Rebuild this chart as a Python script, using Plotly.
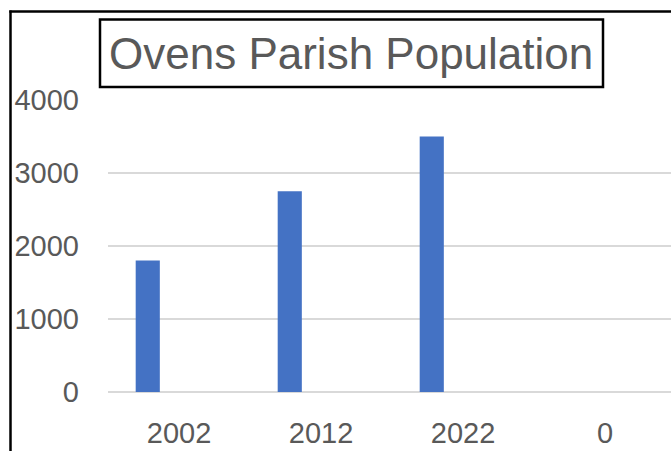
import plotly.graph_objects as go

categories = ["2002", "2012", "2022", "0"]
population = [1800, 2750, 3500, 0]
y_ticks = [0, 1000, 2000, 3000, 4000]
title_text = "Ovens Parish Population"

W, H = 671, 451
PL, PR, PT, PB = 108, 671, 100, 392.3
CAT_PX = 142.0  # pixels per category slot


def px_x(p):
    return (p - PL) / (PR - PL)


def px_y(p):
    return (PB - p) / (PB - PT)


fig = go.Figure()
fig.add_trace(go.Bar(
    x=categories,
    y=population,
    width=0.17,
    offset=-0.305,
    marker=dict(color="#4472C4", line=dict(width=0)),
    hoverinfo="skip",
))

font_fam = "Liberation Sans"
fig.update_layout(
    width=W,
    height=H,
    margin=dict(l=PL, r=W - PR, t=PT, b=H - PB, pad=0),
    paper_bgcolor="white",
    plot_bgcolor="white",
    showlegend=False,
    xaxis=dict(
        type="category",
        range=[-0.5, -0.5 + (PR - PL) / CAT_PX],
        showgrid=False,
        showline=False,
        zeroline=False,
        ticks="",
        tickfont=dict(family=font_fam, size=29, color="#595959"),
        ticklabelstandoff=21,
        automargin=False,
    ),
    yaxis=dict(
        range=[0, 4000],
        tickvals=y_ticks,
        showgrid=True,
        gridcolor="#d9d9d9",
        gridwidth=1.5,
        zeroline=True,
        zerolinecolor="#d9d9d9",
        zerolinewidth=1.5,
        showline=False,
        ticks="",
        tickfont=dict(family=font_fam, size=29, color="#595959"),
        ticklabelstandoff=28,
        automargin=False,
    ),
    shapes=[
        dict(type="line", xref="paper", yref="paper",
             x0=px_x(10.5), x1=px_x(10.5), y0=px_y(10.3), y1=px_y(460),
             line=dict(color="black", width=2.5)),
        dict(type="line", xref="paper", yref="paper",
             x0=px_x(9.3), x1=px_x(680), y0=px_y(11.5), y1=px_y(11.5),
             line=dict(color="black", width=2.5)),
        dict(type="rect", xref="paper", yref="paper",
             x0=px_x(100), x1=px_x(603), y0=px_y(87), y1=px_y(19.5),
             line=dict(color="black", width=2.5), fillcolor="rgba(0,0,0,0)"),
    ],
    annotations=[
        dict(text=title_text, xref="paper", yref="paper",
             x=px_x(351), y=px_y(53), xanchor="center", yanchor="middle",
             showarrow=False,
             font=dict(family=font_fam, size=44, color="#595959")),
    ],
)

fig.write_html(
    "out.html",
    config={"displayModeBar": False},
    post_script="document.body.style.margin='0';document.body.style.overflow='hidden';",
)
